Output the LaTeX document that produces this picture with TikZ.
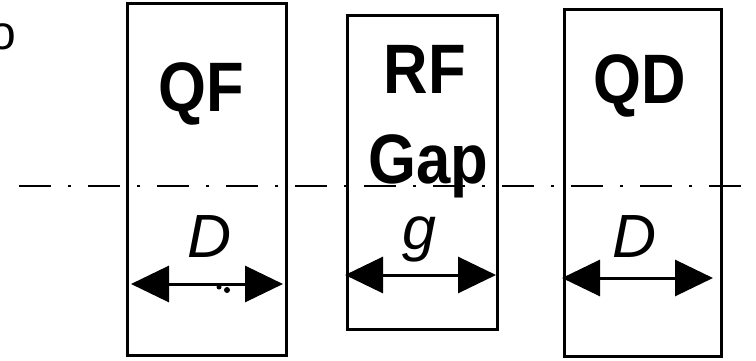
\documentclass[tikz,border=0pt]{standalone}
\usepackage{fontspec}
\setmainfont{Liberation Sans}
\newfontfamily\magfont[FakeStretch=0.88]{Liberation Sans}
\usetikzlibrary{arrows.meta}

\begin{document}
\begin{tikzpicture}[
    x=1pt, y=-1pt,
    element/.style={rectangle, draw, line width=3pt, inner sep=0pt, outer sep=0pt},
    magname/.style={font=\magfont\bfseries\fontsize{70}{70}\selectfont, anchor=base, inner sep=0pt},
    length/.style={font=\itshape\fontsize{61}{61}\selectfont, anchor=base, inner sep=0pt},
    arrow/.style={line width=3pt, {Triangle[length=38pt, width=36pt]}-{Triangle[length=38pt, width=36pt]}},
    axis/.style={line width=2pt, dash pattern=on 32pt off 17pt on 3pt off 17pt}
]
    \useasboundingbox (0,0) rectangle (756,361);

    % magnets and gap
    \node (qf) [element, minimum width=159pt, minimum height=351pt] at (206.5,179.5) {};
    \node (rf) [element, minimum width=150pt, minimum height=313pt] at (422,172.5) {};
    \node (qd) [element, minimum width=157pt, minimum height=346pt] at (642.5,183) {};

    \node (qftext) [magname] at (201,111) {QF};
    \node (rftext) [magname] at (425,94) {RF};
    \node (gaptext) [magname] at (428,183) {Gap};
    \node (qdtext) [magname] at (640,103) {QD};

    \node (corner) [font=\fontsize{48}{48}\selectfont, anchor=base, inner sep=0pt] at (3,50) {o};

    % beam axis
    \coordinate (axisL) at (19,186);
    \coordinate (axisR) at (770,186);
    \draw [axis] (axisL) -- (axisR);

    % lengths
    \node (qflen) [length] at (210,257) {D};
    \node (rflen) [length] at (419,249) {g};
    \node (qdlen) [length] at (635,257) {D};

    \coordinate (qfL) at (131,284);
    \coordinate (qfR) at (283,284);
    \coordinate (rfL) at (345,275);
    \coordinate (rfR) at (496,275);
    \coordinate (qdL) at (562,278);
    \coordinate (qdR) at (713,278);
    \draw [arrow] (qfL) -- (qfR);
    \draw [arrow] (rfL) -- (rfR);
    \draw [arrow] (qdL) -- (qdR);

    \fill (219,287) circle (2.5pt);
    \fill (227,290) circle (3pt);
\end{tikzpicture}
\end{document}
